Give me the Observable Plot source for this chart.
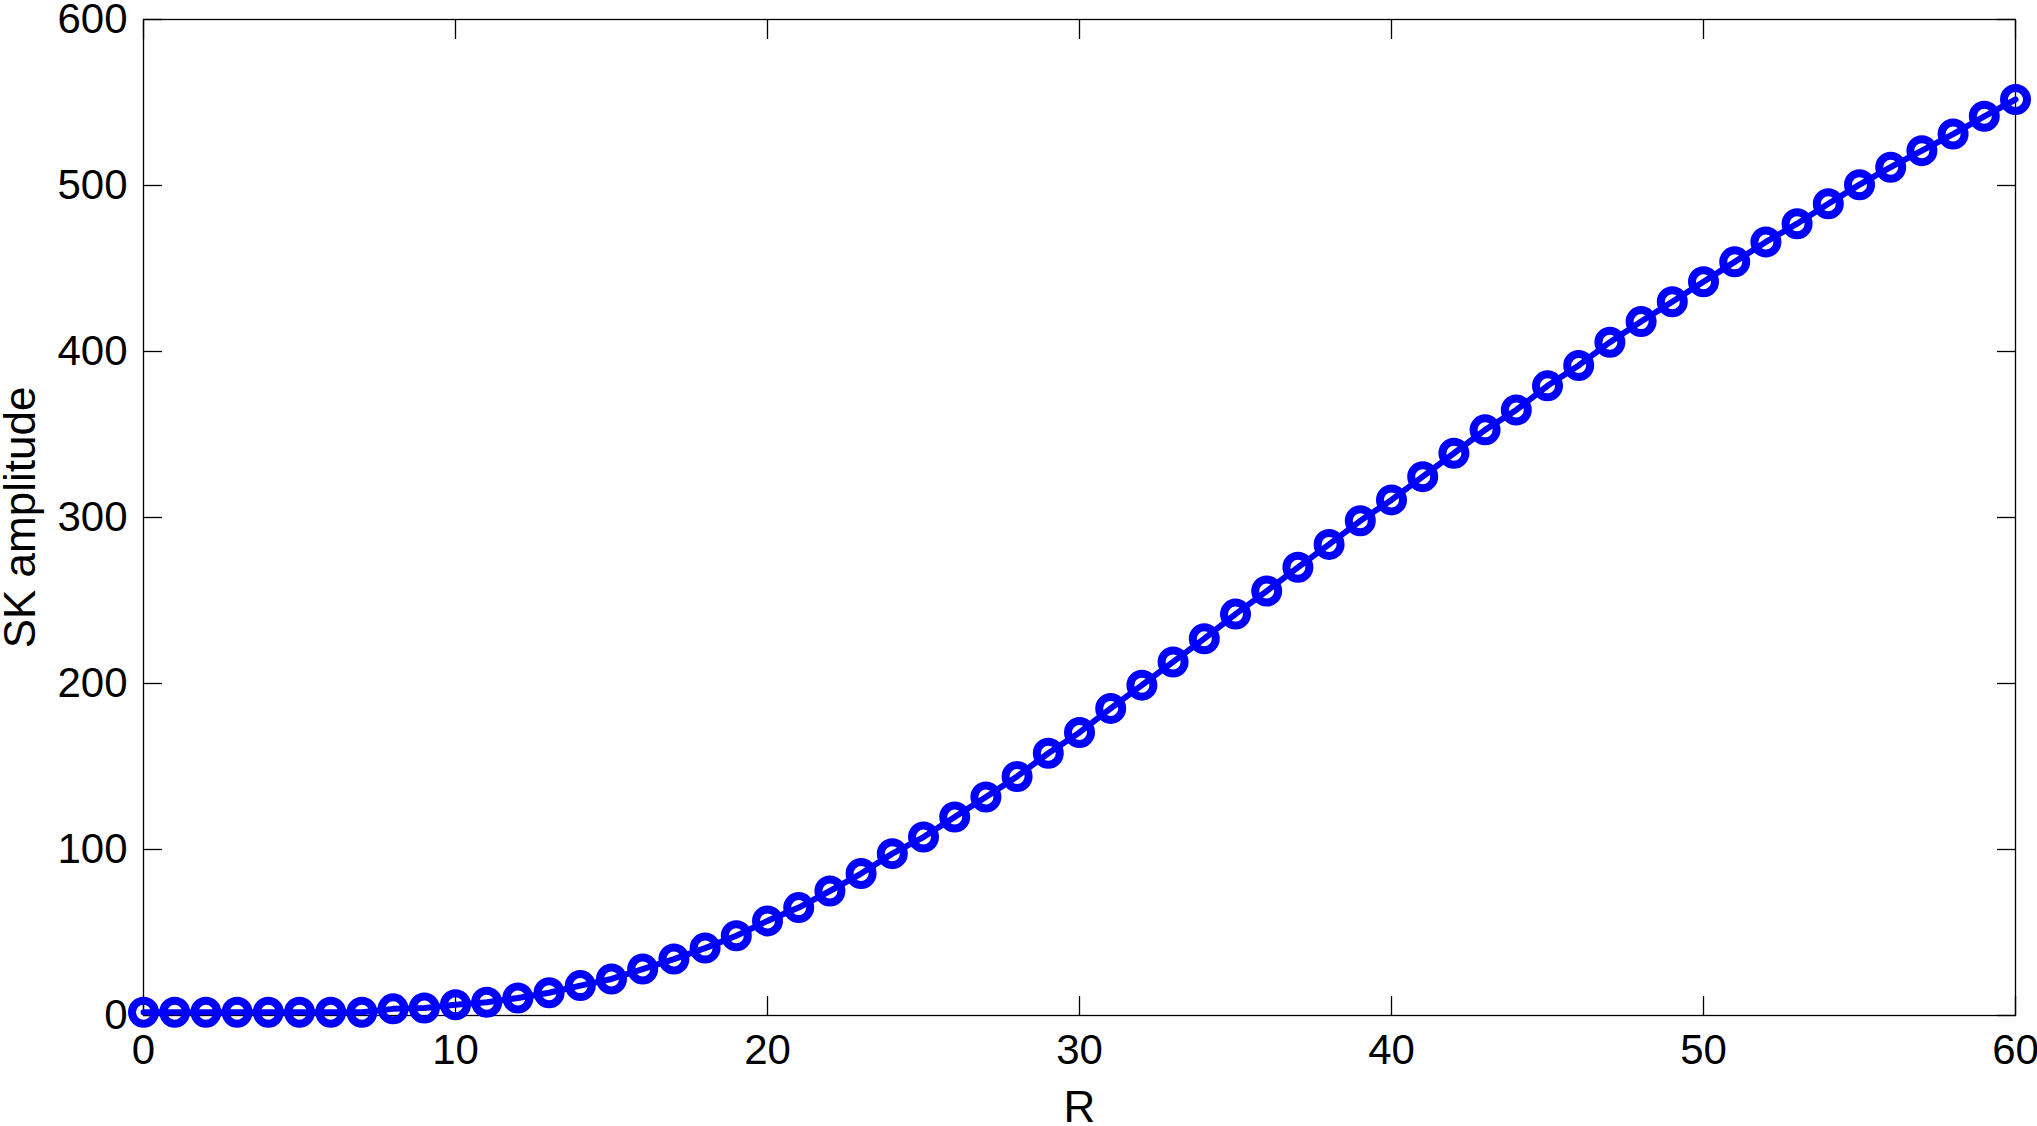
<!DOCTYPE html>
<html>
<head>
<meta charset="utf-8">
<script src="https://cdn.jsdelivr.net/npm/d3@7"></script>
<script src="https://cdn.jsdelivr.net/npm/@observablehq/plot@0.6"></script>
<style>
  html, body { margin: 0; padding: 0; background: #fff; overflow: hidden; }
  #chart svg { display: block; }
</style>
</head>
<body>
<div id="chart"></div>
<script>
// R values (x)
const rValues = [0,1,2,3,4,5,6,7,8,9,10,11,12,13,14,15,16,17,18,19,20,
  21,22,23,24,25,26,27,28,29,30,31,32,33,34,35,36,37,38,39,40,
  41,42,43,44,45,46,47,48,49,50,51,52,53,54,55,56,57,58,59,60];

// SK amplitude (y)
const skAmplitude = [2,2,2,2,2,2,2,2,4,4.5,6.5,8,10.5,13.7,18,22,28,34,40.6,48,57,
  65,75,85.5,97.5,107.5,119.6,131.6,144,158,170.5,185,199,213,227,241.8,255.7,270,283.8,298,310.6,
  324.6,338.7,352.8,364.8,379.3,391.6,405.6,418,430,442,454,466,477,489,500.5,511,521,531,541.7,551.8];

const xTicks = [0,10,20,30,40,50,60];
const yTicks = [0,100,200,300,400,500,600];
const xLabel = "R";
const yLabel = "SK amplitude";

const data = rValues.map((r, i) => ({R: r, A: skAmplitude[i]}));

const blue = "#0000ff";
const font = "'Liberation Sans', Arial, Helvetica, sans-serif";

const chart = Plot.plot({
  width: 2037,
  height: 1126,
  marginLeft: 143,
  marginRight: 22,
  marginTop: 19,
  marginBottom: 111,
  style: {fontFamily: font, fontSize: "42px", background: "#fff", color: "#000", overflow: "visible"},
  x: {domain: [0, 60]},
  y: {domain: [0, 600]},
  marks: [
    Plot.frame({stroke: "#000", strokeWidth: 1.3}),
    Plot.axisX(xTicks, {anchor: "bottom", tickSize: -19, tickPadding: 38, strokeWidth: 1.3, fontSize: 42,
      label: xLabel, labelArrow: "none", labelAnchor: "center", labelOffset: 106}),
    Plot.axisX(xTicks, {anchor: "top", tickSize: -19, strokeWidth: 1.3, tickFormat: () => "", label: null}),
    Plot.axisY(yTicks, {anchor: "left", tickSize: -19, tickPadding: 35, strokeWidth: 1.3, fontSize: 42,
      label: yLabel, labelArrow: "none", labelAnchor: "center", labelOffset: 140}),
    Plot.axisY(yTicks, {anchor: "right", tickSize: -19, strokeWidth: 1.3, tickFormat: () => "", label: null}),
    Plot.line(data, {x: "R", y: "A", stroke: blue, strokeWidth: 6}),
    Plot.dot(data, {x: "R", y: "A", r: 11.5, stroke: blue, strokeWidth: 8, fill: "none"})
  ]
});
// axis titles slightly larger than tick labels, as in the reference
chart.querySelectorAll("[aria-label='x-axis label'], [aria-label='y-axis label']").forEach(g => g.setAttribute("font-size", "44"));
document.getElementById("chart").appendChild(chart);
</script>
</body>
</html>
